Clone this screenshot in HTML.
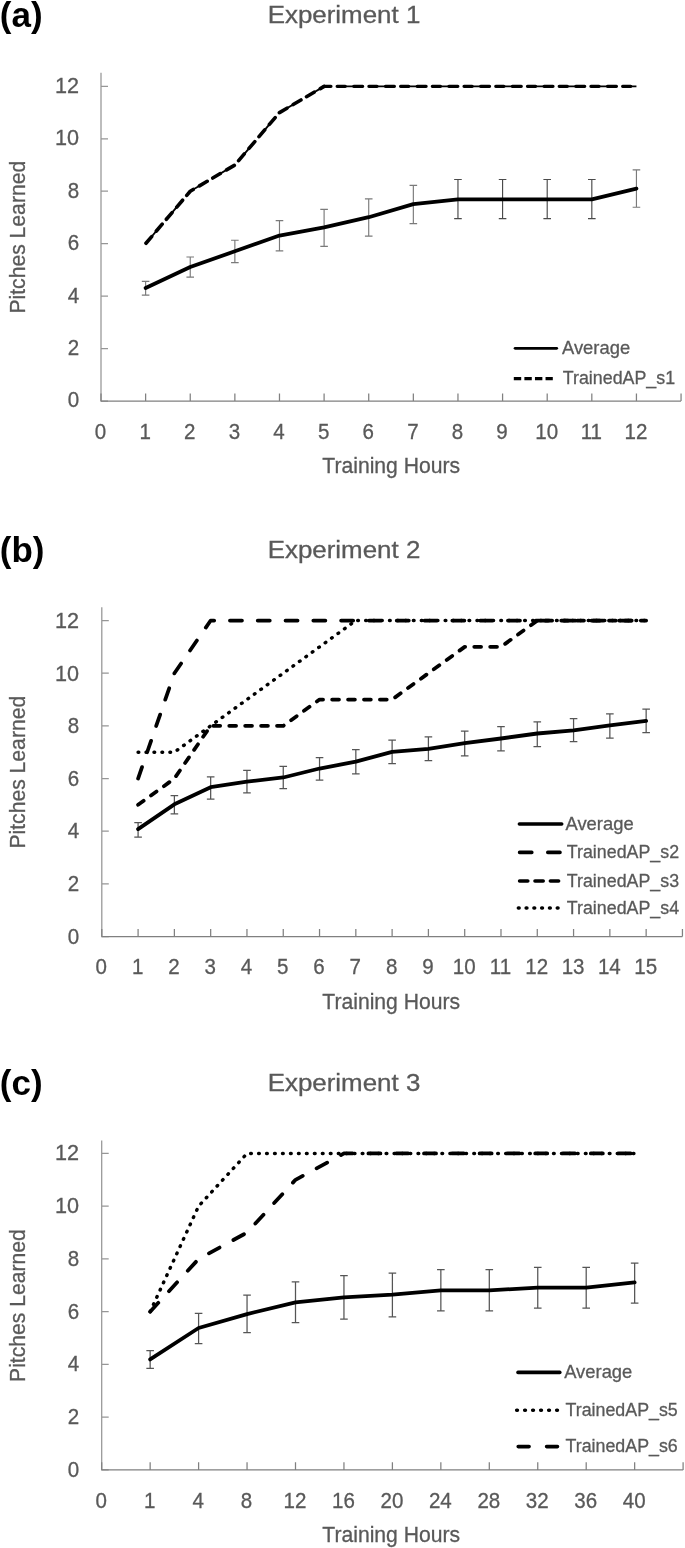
<!DOCTYPE html>
<html lang="en">
<head>
<meta charset="utf-8">
<title>Pitches learned across training hours - Experiments 1-3</title>
<style>
html,body{margin:0;padding:0;background:#fff;}
body{width:685px;height:1548px;overflow:hidden;font-family:"Liberation Sans", sans-serif;}
svg{display:block;will-change:transform;}
svg text{font-family:"Liberation Sans", sans-serif;}
</style>
</head>
<body>
<svg width="685" height="1548" viewBox="0 0 685 1548">
<rect width="685" height="1548" fill="#fff"/>
<g stroke-width="1.25" fill="none">
<path d="M101 72.8 V401M101 401 h7M101 348.56 h7M101 296.12 h7M101 243.68 h7M101 191.24 h7M101 138.8 h7M101 86.36 h7" stroke="#969696"/>
<path d="M100.4 401 H681.06M101 401 v-7.6M145.62 401 v-7.6M190.24 401 v-7.6M234.86 401 v-7.6M279.48 401 v-7.6M324.1 401 v-7.6M368.72 401 v-7.6M413.34 401 v-7.6M457.96 401 v-7.6M502.58 401 v-7.6M547.2 401 v-7.6M591.82 401 v-7.6M636.44 401 v-7.6M681.06 401 v-7.6" stroke="#808080"/>
</g>
<text transform="translate(79.1 407.4) scale(0.96 1)" font-size="21.4" text-anchor="end" font-weight="normal" fill="#595959" stroke="#595959" stroke-width="0.3">0</text>
<text transform="translate(79.1 354.96) scale(0.96 1)" font-size="21.4" text-anchor="end" font-weight="normal" fill="#595959" stroke="#595959" stroke-width="0.3">2</text>
<text transform="translate(79.1 302.52) scale(0.96 1)" font-size="21.4" text-anchor="end" font-weight="normal" fill="#595959" stroke="#595959" stroke-width="0.3">4</text>
<text transform="translate(79.1 250.08) scale(0.96 1)" font-size="21.4" text-anchor="end" font-weight="normal" fill="#595959" stroke="#595959" stroke-width="0.3">6</text>
<text transform="translate(79.1 197.64) scale(0.96 1)" font-size="21.4" text-anchor="end" font-weight="normal" fill="#595959" stroke="#595959" stroke-width="0.3">8</text>
<text transform="translate(79.1 145.2) scale(1.01 1)" font-size="21.4" text-anchor="end" font-weight="normal" fill="#595959" stroke="#595959" stroke-width="0.3">10</text>
<text transform="translate(79.1 92.76) scale(1.01 1)" font-size="21.4" text-anchor="end" font-weight="normal" fill="#595959" stroke="#595959" stroke-width="0.3">12</text>
<text transform="translate(100.5 438.8) scale(0.96 1)" font-size="21.4" text-anchor="middle" font-weight="normal" fill="#595959" stroke="#595959" stroke-width="0.3">0</text>
<text transform="translate(145.12 438.8) scale(0.96 1)" font-size="21.4" text-anchor="middle" font-weight="normal" fill="#595959" stroke="#595959" stroke-width="0.3">1</text>
<text transform="translate(189.74 438.8) scale(0.96 1)" font-size="21.4" text-anchor="middle" font-weight="normal" fill="#595959" stroke="#595959" stroke-width="0.3">2</text>
<text transform="translate(234.36 438.8) scale(0.96 1)" font-size="21.4" text-anchor="middle" font-weight="normal" fill="#595959" stroke="#595959" stroke-width="0.3">3</text>
<text transform="translate(278.98 438.8) scale(0.96 1)" font-size="21.4" text-anchor="middle" font-weight="normal" fill="#595959" stroke="#595959" stroke-width="0.3">4</text>
<text transform="translate(323.6 438.8) scale(0.96 1)" font-size="21.4" text-anchor="middle" font-weight="normal" fill="#595959" stroke="#595959" stroke-width="0.3">5</text>
<text transform="translate(368.22 438.8) scale(0.96 1)" font-size="21.4" text-anchor="middle" font-weight="normal" fill="#595959" stroke="#595959" stroke-width="0.3">6</text>
<text transform="translate(412.84 438.8) scale(0.96 1)" font-size="21.4" text-anchor="middle" font-weight="normal" fill="#595959" stroke="#595959" stroke-width="0.3">7</text>
<text transform="translate(457.46 438.8) scale(0.96 1)" font-size="21.4" text-anchor="middle" font-weight="normal" fill="#595959" stroke="#595959" stroke-width="0.3">8</text>
<text transform="translate(502.08 438.8) scale(0.96 1)" font-size="21.4" text-anchor="middle" font-weight="normal" fill="#595959" stroke="#595959" stroke-width="0.3">9</text>
<text transform="translate(546.7 438.8) scale(0.96 1)" font-size="21.4" text-anchor="middle" font-weight="normal" fill="#595959" stroke="#595959" stroke-width="0.3">10</text>
<text transform="translate(591.32 438.8) scale(0.96 1)" font-size="21.4" text-anchor="middle" font-weight="normal" fill="#595959" stroke="#595959" stroke-width="0.3">11</text>
<text transform="translate(635.94 438.8) scale(0.96 1)" font-size="21.4" text-anchor="middle" font-weight="normal" fill="#595959" stroke="#595959" stroke-width="0.3">12</text>
<text transform="translate(391.2 472.6) scale(0.97 1)" font-size="21.8" text-anchor="middle" font-weight="normal" fill="#595959" stroke="#595959" stroke-width="0.3">Training Hours</text>
<text transform="translate(24.9 237.2) rotate(-90) scale(0.97 1)" font-size="21.8" text-anchor="middle" font-weight="normal" fill="#595959" stroke="#595959" stroke-width="0.3">Pitches Learned</text>
<text transform="translate(344 23.3) scale(1.08 1)" font-size="24" text-anchor="middle" font-weight="normal" fill="#595959" stroke="#595959" stroke-width="0.3">Experiment 1</text>
<text transform="translate(-0.2 26.5)" font-size="35" text-anchor="start" font-weight="bold" fill="#000" stroke="#000" stroke-width="0">(a)</text>
<path d="M145.62 281.3 V295.1 M141.82 281.3 h7.6 M141.82 295.1 h7.6M190.24 257 V277.1 M186.44 257 h7.6 M186.44 277.1 h7.6M234.86 240.2 V262.6 M231.06 240.2 h7.6 M231.06 262.6 h7.6M279.48 220.6 V250.9 M275.68 220.6 h7.6 M275.68 250.9 h7.6M324.1 209.3 V246.3 M320.3 209.3 h7.6 M320.3 246.3 h7.6M368.72 198.8 V236.1 M364.92 198.8 h7.6 M364.92 236.1 h7.6M413.34 185.3 V223.6 M409.54 185.3 h7.6 M409.54 223.6 h7.6M636.44 169.9 V207.2 M632.64 169.9 h7.6 M632.64 207.2 h7.6" stroke="#7a7a7a" stroke-width="1.15" fill="none"/>
<path d="M457.96 179.5 V218.6 M454.16 179.5 h7.6 M454.16 218.6 h7.6M502.58 179.5 V218.6 M498.78 179.5 h7.6 M498.78 218.6 h7.6M547.2 179.5 V218.6 M543.4 179.5 h7.6 M543.4 218.6 h7.6M591.82 179.5 V218.6 M588.02 179.5 h7.6 M588.02 218.6 h7.6" stroke="#4a4a4a" stroke-width="1.15" fill="none"/>
<path d="M145.62 243.68 L190.24 191.24 L234.86 165.02 L279.48 112.58 L324.1 86.36" fill="none" stroke="#000" stroke-width="1.9" stroke-linecap="butt" stroke-linejoin="round" stroke-dasharray="25.01 6.45" stroke-dashoffset="30.89"/>
<path d="M145.62 243.68 L190.24 191.24 L234.86 165.02 L279.48 112.58 L324.1 86.36" fill="none" stroke="#000" stroke-width="3.6" stroke-linecap="round" stroke-linejoin="round" stroke-dasharray="8.79 7.24 8.98 6.45" stroke-dashoffset="30.89"/>
<path d="M324.1 86.36 L636.44 86.36" fill="none" stroke="#000" stroke-width="1.6" stroke-linecap="butt" stroke-linejoin="round" stroke-dasharray="25.55 6.18" stroke-dashoffset="18.67"/>
<path d="M324.1 86.36 L636.44 86.36" fill="none" stroke="#000" stroke-width="3.2" stroke-linecap="round" stroke-linejoin="round" stroke-dasharray="8.14 8.47 8.93 6.18" stroke-dashoffset="18.67"/>
<path d="M145.62 287.99 L190.24 267.02 L234.86 251.28 L279.48 235.55 L324.1 227.42 L368.72 217.2 L413.34 204.09 L457.96 199.37 L502.58 199.37 L547.2 199.37 L591.82 199.37 L636.44 188.62" fill="none" stroke="#000" stroke-width="3.8" stroke-linecap="round" stroke-linejoin="round"/>
<path d="M515.1 348.3 L556.7 348.3" fill="none" stroke="#000" stroke-width="2.8" stroke-linecap="round" stroke-linejoin="round"/>
<text transform="translate(562 353.7) scale(1.01 1)" font-size="18.2" text-anchor="start" font-weight="normal" fill="#595959" stroke="#595959" stroke-width="0.3">Average</text>
<path d="M513.8 378.6 L552.8 378.6" fill="none" stroke="#000" stroke-width="3.2" stroke-linecap="butt" stroke-linejoin="round" stroke-dasharray="7.4 3.18"/>
<text transform="translate(562.8 383.6) scale(0.98 1)" font-size="18.2" text-anchor="start" font-weight="normal" fill="#595959" stroke="#595959" stroke-width="0.3">TrainedAP_s1</text>
<g stroke-width="1.25" fill="none">
<path d="M101.8 607.3 V936.5M101.8 936.5 h7M101.8 883.84 h7M101.8 831.18 h7M101.8 778.52 h7M101.8 725.86 h7M101.8 673.2 h7M101.8 620.54 h7" stroke="#969696"/>
<path d="M101.2 936.5 H682.44M101.8 936.5 v-7.6M138.09 936.5 v-7.6M174.38 936.5 v-7.6M210.67 936.5 v-7.6M246.96 936.5 v-7.6M283.25 936.5 v-7.6M319.54 936.5 v-7.6M355.83 936.5 v-7.6M392.12 936.5 v-7.6M428.41 936.5 v-7.6M464.7 936.5 v-7.6M500.99 936.5 v-7.6M537.28 936.5 v-7.6M573.57 936.5 v-7.6M609.86 936.5 v-7.6M646.15 936.5 v-7.6M682.44 936.5 v-7.6" stroke="#808080"/>
</g>
<text transform="translate(79.1 943.8) scale(0.96 1)" font-size="21.4" text-anchor="end" font-weight="normal" fill="#595959" stroke="#595959" stroke-width="0.3">0</text>
<text transform="translate(79.1 891.14) scale(0.96 1)" font-size="21.4" text-anchor="end" font-weight="normal" fill="#595959" stroke="#595959" stroke-width="0.3">2</text>
<text transform="translate(79.1 838.48) scale(0.96 1)" font-size="21.4" text-anchor="end" font-weight="normal" fill="#595959" stroke="#595959" stroke-width="0.3">4</text>
<text transform="translate(79.1 785.82) scale(0.96 1)" font-size="21.4" text-anchor="end" font-weight="normal" fill="#595959" stroke="#595959" stroke-width="0.3">6</text>
<text transform="translate(79.1 733.16) scale(0.96 1)" font-size="21.4" text-anchor="end" font-weight="normal" fill="#595959" stroke="#595959" stroke-width="0.3">8</text>
<text transform="translate(79.1 680.5) scale(1.01 1)" font-size="21.4" text-anchor="end" font-weight="normal" fill="#595959" stroke="#595959" stroke-width="0.3">10</text>
<text transform="translate(79.1 627.84) scale(1.01 1)" font-size="21.4" text-anchor="end" font-weight="normal" fill="#595959" stroke="#595959" stroke-width="0.3">12</text>
<text transform="translate(101.3 974.3) scale(0.96 1)" font-size="21.4" text-anchor="middle" font-weight="normal" fill="#595959" stroke="#595959" stroke-width="0.3">0</text>
<text transform="translate(137.59 974.3) scale(0.96 1)" font-size="21.4" text-anchor="middle" font-weight="normal" fill="#595959" stroke="#595959" stroke-width="0.3">1</text>
<text transform="translate(173.88 974.3) scale(0.96 1)" font-size="21.4" text-anchor="middle" font-weight="normal" fill="#595959" stroke="#595959" stroke-width="0.3">2</text>
<text transform="translate(210.17 974.3) scale(0.96 1)" font-size="21.4" text-anchor="middle" font-weight="normal" fill="#595959" stroke="#595959" stroke-width="0.3">3</text>
<text transform="translate(246.46 974.3) scale(0.96 1)" font-size="21.4" text-anchor="middle" font-weight="normal" fill="#595959" stroke="#595959" stroke-width="0.3">4</text>
<text transform="translate(282.75 974.3) scale(0.96 1)" font-size="21.4" text-anchor="middle" font-weight="normal" fill="#595959" stroke="#595959" stroke-width="0.3">5</text>
<text transform="translate(319.04 974.3) scale(0.96 1)" font-size="21.4" text-anchor="middle" font-weight="normal" fill="#595959" stroke="#595959" stroke-width="0.3">6</text>
<text transform="translate(355.33 974.3) scale(0.96 1)" font-size="21.4" text-anchor="middle" font-weight="normal" fill="#595959" stroke="#595959" stroke-width="0.3">7</text>
<text transform="translate(391.62 974.3) scale(0.96 1)" font-size="21.4" text-anchor="middle" font-weight="normal" fill="#595959" stroke="#595959" stroke-width="0.3">8</text>
<text transform="translate(427.91 974.3) scale(0.96 1)" font-size="21.4" text-anchor="middle" font-weight="normal" fill="#595959" stroke="#595959" stroke-width="0.3">9</text>
<text transform="translate(464.2 974.3) scale(0.96 1)" font-size="21.4" text-anchor="middle" font-weight="normal" fill="#595959" stroke="#595959" stroke-width="0.3">10</text>
<text transform="translate(500.49 974.3) scale(0.96 1)" font-size="21.4" text-anchor="middle" font-weight="normal" fill="#595959" stroke="#595959" stroke-width="0.3">11</text>
<text transform="translate(536.78 974.3) scale(0.96 1)" font-size="21.4" text-anchor="middle" font-weight="normal" fill="#595959" stroke="#595959" stroke-width="0.3">12</text>
<text transform="translate(573.07 974.3) scale(0.96 1)" font-size="21.4" text-anchor="middle" font-weight="normal" fill="#595959" stroke="#595959" stroke-width="0.3">13</text>
<text transform="translate(609.36 974.3) scale(0.96 1)" font-size="21.4" text-anchor="middle" font-weight="normal" fill="#595959" stroke="#595959" stroke-width="0.3">14</text>
<text transform="translate(645.65 974.3) scale(0.96 1)" font-size="21.4" text-anchor="middle" font-weight="normal" fill="#595959" stroke="#595959" stroke-width="0.3">15</text>
<text transform="translate(391.2 1008.5) scale(0.97 1)" font-size="21.8" text-anchor="middle" font-weight="normal" fill="#595959" stroke="#595959" stroke-width="0.3">Training Hours</text>
<text transform="translate(24.9 772.2) rotate(-90) scale(0.97 1)" font-size="21.8" text-anchor="middle" font-weight="normal" fill="#595959" stroke="#595959" stroke-width="0.3">Pitches Learned</text>
<text transform="translate(344 558.3) scale(1.08 1)" font-size="24" text-anchor="middle" font-weight="normal" fill="#595959" stroke="#595959" stroke-width="0.3">Experiment 2</text>
<text transform="translate(-0.2 561.8)" font-size="35" text-anchor="start" font-weight="bold" fill="#000" stroke="#000" stroke-width="0">(b)</text>
<path d="M138.09 822.6 V837.2 M134.29 822.6 h7.6 M134.29 837.2 h7.6M174.38 795.5 V813.9 M170.58 795.5 h7.6 M170.58 813.9 h7.6M210.67 776.8 V799 M206.87 776.8 h7.6 M206.87 799 h7.6M246.96 770.4 V792.8 M243.16 770.4 h7.6 M243.16 792.8 h7.6M283.25 766.3 V788.5 M279.45 766.3 h7.6 M279.45 788.5 h7.6M319.54 757.5 V780 M315.74 757.5 h7.6 M315.74 780 h7.6M355.83 749.6 V773.9 M352.03 749.6 h7.6 M352.03 773.9 h7.6M392.12 740 V763.6 M388.32 740 h7.6 M388.32 763.6 h7.6M428.41 736.8 V760.7 M424.61 736.8 h7.6 M424.61 760.7 h7.6M464.7 731.2 V755.8 M460.9 731.2 h7.6 M460.9 755.8 h7.6M500.99 726.7 V750.9 M497.19 726.7 h7.6 M497.19 750.9 h7.6M537.28 721.75 V746.6 M533.48 721.75 h7.6 M533.48 746.6 h7.6M573.57 718.5 V741.6 M569.77 718.5 h7.6 M569.77 741.6 h7.6M609.86 713.9 V738.1 M606.06 713.9 h7.6 M606.06 738.1 h7.6M646.15 709.2 V732.6 M642.35 709.2 h7.6 M642.35 732.6 h7.6" stroke="#555555" stroke-width="1.25" fill="none"/>
<path d="M138.09 778.52 L174.38 673.2 L210.67 620.54 L646.15 620.54" fill="none" stroke="#000" stroke-width="3.75" stroke-linecap="round" stroke-linejoin="round" stroke-dasharray="12.05 15.75"/>
<path d="M138.09 804.85 L174.38 778.52 L210.67 725.86 L283.25 725.86 L319.54 699.53 L392.12 699.53 L428.41 673.2 L464.7 646.87 L500.99 646.87 L537.28 620.54 L646.15 620.54" fill="none" stroke="#000" stroke-width="3.75" stroke-linecap="round" stroke-linejoin="round" stroke-dasharray="6.85 9.07"/>
<path d="M138.09 752.19 L174.38 752.19 L210.67 725.86 L355.83 620.54 L646.15 620.54" fill="none" stroke="#000" stroke-width="3.45" stroke-linecap="round" stroke-linejoin="round" stroke-dasharray="0.7 7.25"/>
<path d="M138.09 829.07 L174.38 804.32 L210.67 787.21 L246.96 781.68 L283.25 777.47 L319.54 768.51 L355.83 761.67 L392.12 751.93 L428.41 748.77 L464.7 743.24 L500.99 738.5 L537.28 733.5 L573.57 730.34 L609.86 725.33 L646.15 720.86" fill="none" stroke="#000" stroke-width="3.8" stroke-linecap="round" stroke-linejoin="round"/>
<path d="M519.4 824 L561.7 824" fill="none" stroke="#000" stroke-width="3.6" stroke-linecap="round" stroke-linejoin="round"/>
<text transform="translate(565.5 829.8) scale(1.01 1)" font-size="18.2" text-anchor="start" font-weight="normal" fill="#595959" stroke="#595959" stroke-width="0.3">Average</text>
<path d="M519.6 852.4 L560 852.4" fill="none" stroke="#000" stroke-width="3.6" stroke-linecap="round" stroke-linejoin="round" stroke-dasharray="12.2 16"/>
<text transform="translate(566.8 858.2) scale(0.98 1)" font-size="18.2" text-anchor="start" font-weight="normal" fill="#595959" stroke="#595959" stroke-width="0.3">TrainedAP_s2</text>
<path d="M519.6 881 L560 881" fill="none" stroke="#000" stroke-width="3.6" stroke-linecap="round" stroke-linejoin="round" stroke-dasharray="8.2 7.2"/>
<text transform="translate(566.8 886.6) scale(0.98 1)" font-size="18.2" text-anchor="start" font-weight="normal" fill="#595959" stroke="#595959" stroke-width="0.3">TrainedAP_s3</text>
<path d="M518.4 908 L560 908" fill="none" stroke="#000" stroke-width="3.6" stroke-linecap="round" stroke-linejoin="round" stroke-dasharray="0.7 7.08"/>
<text transform="translate(566.8 913.8) scale(0.98 1)" font-size="18.2" text-anchor="start" font-weight="normal" fill="#595959" stroke="#595959" stroke-width="0.3">TrainedAP_s4</text>
<g stroke-width="1.25" fill="none">
<path d="M101.7 1140.6 V1469.9M101.7 1469.9 h7M101.7 1417.16 h7M101.7 1364.42 h7M101.7 1311.68 h7M101.7 1258.94 h7M101.7 1206.2 h7M101.7 1153.46 h7" stroke="#969696"/>
<path d="M101.1 1469.9 H683.1M101.7 1469.9 v-7.6M150.15 1469.9 v-7.6M198.6 1469.9 v-7.6M247.05 1469.9 v-7.6M295.5 1469.9 v-7.6M343.95 1469.9 v-7.6M392.4 1469.9 v-7.6M440.85 1469.9 v-7.6M489.3 1469.9 v-7.6M537.75 1469.9 v-7.6M586.2 1469.9 v-7.6M634.65 1469.9 v-7.6M683.1 1469.9 v-7.6" stroke="#808080"/>
</g>
<text transform="translate(79.1 1476.9) scale(0.96 1)" font-size="21.4" text-anchor="end" font-weight="normal" fill="#595959" stroke="#595959" stroke-width="0.3">0</text>
<text transform="translate(79.1 1424.16) scale(0.96 1)" font-size="21.4" text-anchor="end" font-weight="normal" fill="#595959" stroke="#595959" stroke-width="0.3">2</text>
<text transform="translate(79.1 1371.42) scale(0.96 1)" font-size="21.4" text-anchor="end" font-weight="normal" fill="#595959" stroke="#595959" stroke-width="0.3">4</text>
<text transform="translate(79.1 1318.68) scale(0.96 1)" font-size="21.4" text-anchor="end" font-weight="normal" fill="#595959" stroke="#595959" stroke-width="0.3">6</text>
<text transform="translate(79.1 1265.94) scale(0.96 1)" font-size="21.4" text-anchor="end" font-weight="normal" fill="#595959" stroke="#595959" stroke-width="0.3">8</text>
<text transform="translate(79.1 1213.2) scale(1.01 1)" font-size="21.4" text-anchor="end" font-weight="normal" fill="#595959" stroke="#595959" stroke-width="0.3">10</text>
<text transform="translate(79.1 1160.46) scale(1.01 1)" font-size="21.4" text-anchor="end" font-weight="normal" fill="#595959" stroke="#595959" stroke-width="0.3">12</text>
<text transform="translate(101.2 1507.7) scale(0.96 1)" font-size="21.4" text-anchor="middle" font-weight="normal" fill="#595959" stroke="#595959" stroke-width="0.3">0</text>
<text transform="translate(149.65 1507.7) scale(0.96 1)" font-size="21.4" text-anchor="middle" font-weight="normal" fill="#595959" stroke="#595959" stroke-width="0.3">1</text>
<text transform="translate(198.1 1507.7) scale(0.96 1)" font-size="21.4" text-anchor="middle" font-weight="normal" fill="#595959" stroke="#595959" stroke-width="0.3">4</text>
<text transform="translate(246.55 1507.7) scale(0.96 1)" font-size="21.4" text-anchor="middle" font-weight="normal" fill="#595959" stroke="#595959" stroke-width="0.3">8</text>
<text transform="translate(295 1507.7) scale(0.96 1)" font-size="21.4" text-anchor="middle" font-weight="normal" fill="#595959" stroke="#595959" stroke-width="0.3">12</text>
<text transform="translate(343.45 1507.7) scale(0.96 1)" font-size="21.4" text-anchor="middle" font-weight="normal" fill="#595959" stroke="#595959" stroke-width="0.3">16</text>
<text transform="translate(391.9 1507.7) scale(0.96 1)" font-size="21.4" text-anchor="middle" font-weight="normal" fill="#595959" stroke="#595959" stroke-width="0.3">20</text>
<text transform="translate(440.35 1507.7) scale(0.96 1)" font-size="21.4" text-anchor="middle" font-weight="normal" fill="#595959" stroke="#595959" stroke-width="0.3">24</text>
<text transform="translate(488.8 1507.7) scale(0.96 1)" font-size="21.4" text-anchor="middle" font-weight="normal" fill="#595959" stroke="#595959" stroke-width="0.3">28</text>
<text transform="translate(537.25 1507.7) scale(0.96 1)" font-size="21.4" text-anchor="middle" font-weight="normal" fill="#595959" stroke="#595959" stroke-width="0.3">32</text>
<text transform="translate(585.7 1507.7) scale(0.96 1)" font-size="21.4" text-anchor="middle" font-weight="normal" fill="#595959" stroke="#595959" stroke-width="0.3">36</text>
<text transform="translate(634.15 1507.7) scale(0.96 1)" font-size="21.4" text-anchor="middle" font-weight="normal" fill="#595959" stroke="#595959" stroke-width="0.3">40</text>
<text transform="translate(391.2 1541.5) scale(0.97 1)" font-size="21.8" text-anchor="middle" font-weight="normal" fill="#595959" stroke="#595959" stroke-width="0.3">Training Hours</text>
<text transform="translate(24.9 1305.55) rotate(-90) scale(0.97 1)" font-size="21.8" text-anchor="middle" font-weight="normal" fill="#595959" stroke="#595959" stroke-width="0.3">Pitches Learned</text>
<text transform="translate(344 1090.5) scale(1.08 1)" font-size="24" text-anchor="middle" font-weight="normal" fill="#595959" stroke="#595959" stroke-width="0.3">Experiment 3</text>
<text transform="translate(-0.2 1094.5)" font-size="35" text-anchor="start" font-weight="bold" fill="#000" stroke="#000" stroke-width="0">(c)</text>
<path d="M150.15 1350.5 V1368.3 M146.35 1350.5 h7.6 M146.35 1368.3 h7.6M198.6 1313.4 V1343.5 M194.8 1313.4 h7.6 M194.8 1343.5 h7.6M247.05 1295 V1332.7 M243.25 1295 h7.6 M243.25 1332.7 h7.6M295.5 1281.9 V1322.5 M291.7 1281.9 h7.6 M291.7 1322.5 h7.6M343.95 1275.6 V1319.1 M340.15 1275.6 h7.6 M340.15 1319.1 h7.6M392.4 1273 V1316.8 M388.6 1273 h7.6 M388.6 1316.8 h7.6M440.85 1269.5 V1310.9 M437.05 1269.5 h7.6 M437.05 1310.9 h7.6M489.3 1269.5 V1310.9 M485.5 1269.5 h7.6 M485.5 1310.9 h7.6M537.75 1267.3 V1308.2 M533.95 1267.3 h7.6 M533.95 1308.2 h7.6M586.2 1267.3 V1308.2 M582.4 1267.3 h7.6 M582.4 1308.2 h7.6M634.65 1263.2 V1303.2 M630.85 1263.2 h7.6 M630.85 1303.2 h7.6" stroke="#555555" stroke-width="1.25" fill="none"/>
<path d="M150.15 1311.68 L198.6 1258.94 L247.05 1232.57 L295.5 1179.83 L343.95 1153.46 L634.65 1153.46" fill="none" stroke="#000" stroke-width="3.75" stroke-linecap="round" stroke-linejoin="round" stroke-dasharray="12.05 15.75"/>
<path d="M150.15 1311.68 L198.6 1206.2 L247.05 1153.46 L634.65 1153.46" fill="none" stroke="#000" stroke-width="3.45" stroke-linecap="round" stroke-linejoin="round" stroke-dasharray="0.7 7.27"/>
<path d="M150.15 1359.41 L198.6 1328.03 L247.05 1314.05 L295.5 1302.45 L343.95 1297.44 L392.4 1294.54 L440.85 1290.32 L489.3 1290.32 L537.75 1287.68 L586.2 1287.68 L634.65 1282.41" fill="none" stroke="#000" stroke-width="3.8" stroke-linecap="round" stroke-linejoin="round"/>
<path d="M518 1372.4 L559.8 1372.4" fill="none" stroke="#000" stroke-width="3.6" stroke-linecap="round" stroke-linejoin="round"/>
<text transform="translate(564.2 1377.7) scale(1.01 1)" font-size="18.2" text-anchor="start" font-weight="normal" fill="#595959" stroke="#595959" stroke-width="0.3">Average</text>
<path d="M516.7 1410.2 L559 1410.2" fill="none" stroke="#000" stroke-width="3.6" stroke-linecap="round" stroke-linejoin="round" stroke-dasharray="0.7 7.3"/>
<text transform="translate(565.5 1415.5) scale(0.98 1)" font-size="18.2" text-anchor="start" font-weight="normal" fill="#595959" stroke="#595959" stroke-width="0.3">TrainedAP_s5</text>
<path d="M518.2 1446.6 L558 1446.6" fill="none" stroke="#000" stroke-width="3.6" stroke-linecap="round" stroke-linejoin="round" stroke-dasharray="10.9 17.5"/>
<text transform="translate(565.5 1452.3) scale(0.98 1)" font-size="18.2" text-anchor="start" font-weight="normal" fill="#595959" stroke="#595959" stroke-width="0.3">TrainedAP_s6</text>
</svg>
</body>
</html>
